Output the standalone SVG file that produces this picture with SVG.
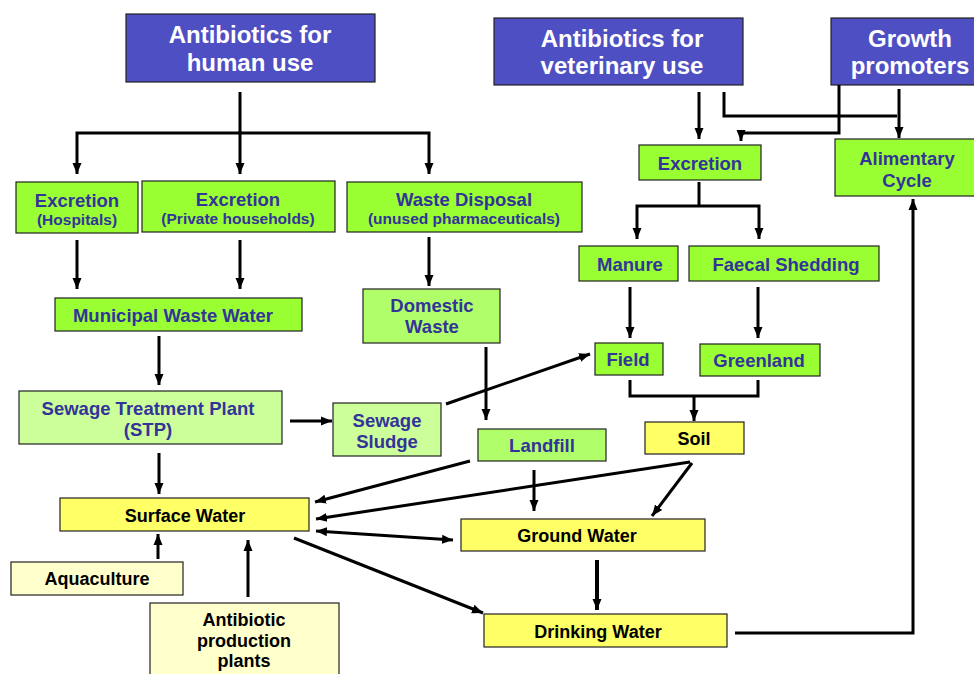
<svg xmlns="http://www.w3.org/2000/svg" width="974" height="674" viewBox="0 0 974 674">
<defs>
<marker id="ah" markerUnits="userSpaceOnUse" markerWidth="12" markerHeight="12" viewBox="0 0 12 12" refX="11" refY="6" orient="auto-start-reverse">
<path d="M0,1.5 L11,6 L0,10.5 Z" fill="#000"/>
</marker>
</defs>
<style>
rect{stroke:#222;stroke-width:1.2}
.blue{fill:#4F4FC4}
.g{fill:#99FF33}
.lg{fill:#B0FF6A}
.pg{fill:#CCFF99}
.y{fill:#FFFF66}
.py{fill:#FFFFCC}
text{font-family:"Liberation Sans",Arial,sans-serif;font-weight:bold;text-anchor:middle}
.t{fill:#fff;font-size:24px}
.b{fill:#333399;font-size:18.5px}
.s{fill:#333399;font-size:15.5px}
.k{fill:#000;font-size:18px}
#conn path,#conn line{stroke:#000;stroke-width:3;fill:none}
</style>
<rect width="974" height="674" fill="#fff" style="stroke:none"/>
<g id="human"><rect class="blue" x="126" y="14" width="249" height="68"/><text class="t" x="250" y="43">Antibiotics for</text><text class="t" x="250" y="71">human use</text></g>
<g id="vet"><rect class="blue" x="494" y="18" width="249" height="67"/><text class="t" x="622" y="47">Antibiotics for</text><text class="t" x="622" y="74">veterinary use</text></g>
<g id="growth"><rect class="blue" x="831" y="18" width="150" height="67"/><text class="t" x="910" y="47">Growth</text><text class="t" x="910" y="74">promoters</text></g>
<g id="exh"><rect class="g" x="16" y="182" width="122" height="51"/><text class="b" x="77" y="207">Excretion</text><text class="s" x="77" y="225">(Hospitals)</text></g>
<g id="exp"><rect class="g" x="142" y="181" width="193" height="51"/><text class="b" x="238" y="206">Excretion</text><text class="s" x="238" y="224">(Private households)</text></g>
<g id="waste"><rect class="g" x="347" y="182" width="235" height="50"/><text class="b" x="464" y="206">Waste Disposal</text><text class="s" x="464" y="224">(unused pharmaceuticals)</text></g>
<g id="exv"><rect class="g" x="639" y="145" width="122" height="35"/><text class="b" x="700" y="170">Excretion</text></g>
<g id="alim"><rect class="g" x="835" y="139" width="145" height="57"/><text class="b" x="907" y="165">Alimentary</text><text class="b" x="907" y="187">Cycle</text></g>
<g id="manure"><rect class="g" x="579" y="246" width="99" height="35"/><text class="b" x="630" y="271">Manure</text></g>
<g id="faecal"><rect class="g" x="689" y="246" width="190" height="35"/><text class="b" x="786" y="271">Faecal Shedding</text></g>
<g id="field"><rect class="g" x="595" y="343" width="68" height="32"/><text class="b" x="628" y="366">Field</text></g>
<g id="greenland"><rect class="g" x="700" y="344" width="120" height="32"/><text class="b" x="759" y="367">Greenland</text></g>
<g id="soil"><rect class="y" x="645" y="422" width="99" height="32"/><text class="k" x="694" y="445">Soil</text></g>
<g id="landfill"><rect class="lg" x="478" y="429" width="128" height="32"/><text class="b" x="542" y="452">Landfill</text></g>
<g id="municipal"><rect class="g" x="55" y="298" width="247" height="33"/><text class="b" x="173" y="322">Municipal Waste Water</text></g>
<g id="domestic"><rect class="lg" x="363" y="289" width="137" height="54"/><text class="b" x="432" y="312">Domestic</text><text class="b" x="432" y="333">Waste</text></g>
<g id="stp"><rect class="pg" x="19" y="391" width="263" height="53"/><text class="b" x="148" y="415">Sewage Treatment Plant</text><text class="b" x="148" y="436">(STP)</text></g>
<g id="sludge"><rect class="pg" x="333" y="403" width="108" height="53"/><text class="b" x="387" y="427">Sewage</text><text class="b" x="387" y="448">Sludge</text></g>
<g id="surface"><rect class="y" x="60" y="498" width="249" height="33"/><text class="k" x="185" y="522">Surface Water</text></g>
<g id="aqua"><rect class="py" x="11" y="562" width="172" height="33"/><text class="k" x="97" y="585">Aquaculture</text></g>
<g id="production"><rect class="py" x="150" y="603" width="189" height="80"/><text class="k" x="244" y="626">Antibiotic</text><text class="k" x="244" y="647">production</text><text class="k" x="244" y="667">plants</text></g>
<g id="ground"><rect class="y" x="461" y="519" width="244" height="32"/><text class="k" x="577" y="542">Ground Water</text></g>
<g id="drinking"><rect class="y" x="484" y="614" width="243" height="33"/><text class="k" x="598" y="638">Drinking Water</text></g>
<g id="conn">
<line x1="240" y1="92" x2="240" y2="133"/>
<path d="M77,174 V133 H429 V174" marker-start="url(#ah)" marker-end="url(#ah)"/>
<line x1="240" y1="131" x2="240" y2="174" marker-end="url(#ah)"/>
<line x1="77" y1="240" x2="77" y2="289" marker-end="url(#ah)"/>
<line x1="240" y1="240" x2="240" y2="289" marker-end="url(#ah)"/>
<line x1="429" y1="237" x2="429" y2="286" marker-end="url(#ah)"/>
<line x1="159" y1="336" x2="159" y2="385" marker-end="url(#ah)"/>
<line x1="486" y1="347" x2="486" y2="420" marker-end="url(#ah)"/>
<line x1="290" y1="421" x2="332" y2="421" marker-end="url(#ah)"/>
<line x1="446" y1="404" x2="590" y2="354" marker-end="url(#ah)"/>
<line x1="159" y1="453" x2="159" y2="494" marker-end="url(#ah)"/>
<line x1="470" y1="461" x2="315" y2="502" marker-end="url(#ah)"/>
<line x1="690" y1="462" x2="316" y2="519" marker-end="url(#ah)"/>
<line x1="692" y1="463" x2="652" y2="516" marker-end="url(#ah)"/>
<line x1="534" y1="470" x2="534" y2="511" marker-end="url(#ah)"/>
<line x1="316" y1="531" x2="453" y2="540" marker-start="url(#ah)" marker-end="url(#ah)"/>
<line x1="294" y1="538" x2="483" y2="613" marker-end="url(#ah)"/>
<line x1="158" y1="559" x2="158" y2="534" marker-end="url(#ah)"/>
<line x1="248" y1="597" x2="248" y2="540" marker-end="url(#ah)"/>
<line x1="597" y1="560" x2="597" y2="610" style="stroke-width:4" marker-end="url(#ah)"/>
<path d="M735,633 H913 V199" marker-end="url(#ah)"/>
<line x1="699" y1="92" x2="699" y2="139" marker-end="url(#ah)"/>
<path d="M724,92 V116 H897"/>
<line x1="899" y1="89" x2="899" y2="138" marker-end="url(#ah)"/>
<path d="M839,85 V133 H741 V141" marker-end="url(#ah)"/>
<line x1="699" y1="182" x2="699" y2="206"/>
<path d="M637,239 V206 H759 V239" marker-start="url(#ah)" marker-end="url(#ah)"/>
<line x1="630" y1="287" x2="630" y2="338" marker-end="url(#ah)"/>
<line x1="758" y1="287" x2="758" y2="338" marker-end="url(#ah)"/>
<path d="M630,380 V396 H758 V380"/>
<line x1="694" y1="396" x2="694" y2="421" marker-end="url(#ah)"/>
</g>
</svg>
